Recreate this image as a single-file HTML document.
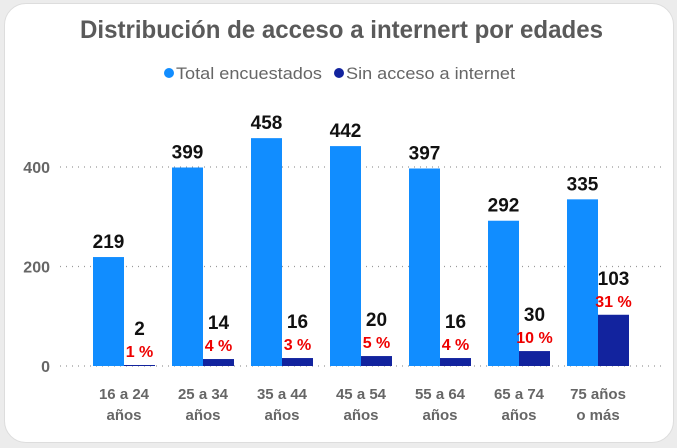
<!DOCTYPE html>
<html><head><meta charset="utf-8"><style>
body{margin:0;background:#ececec;font-family:"Liberation Sans",sans-serif;}
#card{position:absolute;left:4px;top:3px;width:668px;height:438px;background:#fff;border-radius:22px;border:1px solid #ddd;}
</style></head><body>
<div id="card"></div>
<svg id="chart" width="677" height="448" style="position:absolute;left:0;top:0">
<text x="80" y="38" textLength="523" lengthAdjust="spacingAndGlyphs" font-weight="bold" font-size="25" fill="#5a5a5a">Distribución de acceso a internert por edades</text>
<g>
<circle cx="169" cy="73" r="5" fill="#118dff"/>
<text x="176" y="79" textLength="146" lengthAdjust="spacingAndGlyphs" font-size="17" fill="#666">Total encuestados</text>
<circle cx="339" cy="73" r="5" fill="#12239e"/>
<text x="346" y="79" textLength="169" lengthAdjust="spacingAndGlyphs" font-size="17" fill="#666">Sin acceso a internet</text>
</g>
<g id="plot"></g>
</svg>
<script>
const categories1=["16 a 24","25 a 34","35 a 44","45 a 54","55 a 64","65 a 74","75 años"];
const categories2=["años","años","años","años","años","años","o más"];
const totalValues=[219,399,458,442,397,292,335];
const sinValues=[2,14,16,20,16,30,103];
const pctLabels=["1 %","4 %","3 %","5 %","4 %","10 %","31 %"];
const yTicks=[0,200,400];
const NS="http://www.w3.org/2000/svg";
const g=document.getElementById('plot');
const y=v=>366-v*0.4975;
const cx=i=>124+79*i;
const bw=31;
function mk(t,a,txt){const e=document.createElementNS(NS,t);for(const k in a)e.setAttribute(k,a[k]);if(txt!==undefined)e.textContent=txt;g.appendChild(e);return e;}
yTicks.forEach(t=>{
 const l=mk('line',{x1:60,x2:665,y1:y(t),y2:y(t),stroke:'#999','stroke-dasharray':'1 5','stroke-width':1.2});
 
 
 const tx=mk('text',{x:50,y:y(t)+6,'text-anchor':'end','font-size':16,'font-weight':'bold',fill:'#666'},t);
 
 
});
categories1.forEach((c,i)=>{
 const b1=mk('rect',{x:cx(i)-bw,y:y(totalValues[i]),width:bw,height:366-y(totalValues[i]),fill:'#118dff'});
 
 
 const b2=mk('rect',{x:cx(i),y:y(sinValues[i]),width:bw,height:Math.max(1,366-y(sinValues[i])),fill:'#12239e'});
 
 
 const l1=mk('text',{x:cx(i)-bw/2,y:y(totalValues[i])-9,'text-anchor':'middle','font-size':19,'font-weight':'bold',fill:'#111'},totalValues[i]);
 
 
 const l2=mk('text',{x:cx(i)+bw/2,y:Math.min(y(sinValues[i]),366)-30,'text-anchor':'middle','font-size':19,'font-weight':'bold',fill:'#111'},sinValues[i]);
 
 
 const l3=mk('text',{x:cx(i)+bw/2,y:Math.min(y(sinValues[i]),366)-8,'text-anchor':'middle','font-size':16,'font-weight':'bold',fill:'#ee0000'},pctLabels[i]);
 
 
 const c1=mk('text',{x:cx(i),y:399,'text-anchor':'middle','font-size':15,'font-weight':'bold',fill:'#666'},c);
 
 
 const c2=mk('text',{x:cx(i),y:420,'text-anchor':'middle','font-size':15,'font-weight':'bold',fill:'#666'},categories2[i]);
 
 
});
</script>
</body></html>
